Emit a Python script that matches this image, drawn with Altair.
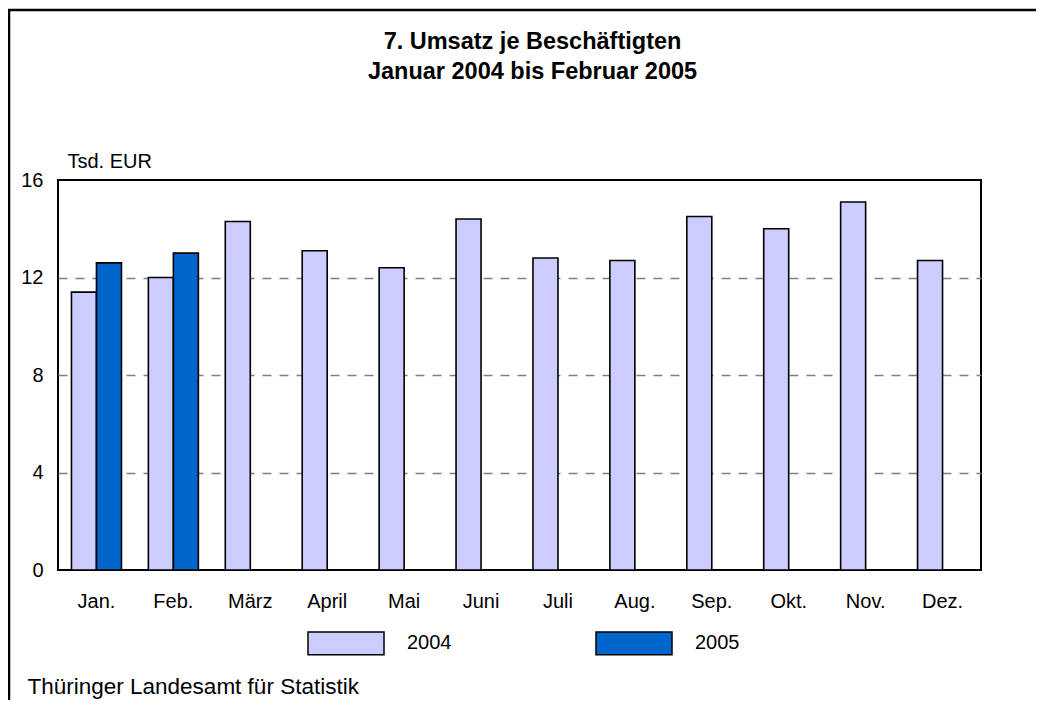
import altair as alt
import pandas as pd

months = ["Jan.", "Feb.", "März", "April", "Mai", "Juni", "Juli", "Aug.", "Sep.", "Okt.", "Nov.", "Dez."]
values_2004 = [11.4, 12.0, 14.3, 13.1, 12.4, 14.4, 12.8, 12.7, 14.5, 14.0, 15.1, 12.7]
values_2005 = [12.6, 13.0]
years = ["2004", "2005"]
colors = ["#CCCCFF", "#0066CC"]
y_ticks = [0, 4, 8, 12, 16]

rows = []
for m, v in zip(months, values_2004):
    rows.append({"Monat": m, "Jahr": "2004", "Wert": v})
for m, v in zip(months, values_2005):
    rows.append({"Monat": m, "Jahr": "2005", "Wert": v})
df = pd.DataFrame(rows)

FONT = "Liberation Sans, Arial, Helvetica, sans-serif"

bars = alt.Chart(df).mark_bar(stroke="black", strokeWidth=1.6).encode(
    x=alt.X(
        "Monat:N",
        sort=months,
        scale=alt.Scale(paddingInner=0.35, paddingOuter=0.175),
        axis=alt.Axis(
            title="Thüringer Landesamt für Statistik",
            labelAngle=0, labelFontSize=20, labelPadding=37,
            labelBaseline="alphabetic", labelColor="black",
            ticks=False, tickSize=0, domain=False,
            titleX=-31, titleY=123, titleAlign="left", titleAnchor="start",
            titleBaseline="alphabetic", titleFontSize=22.5,
            titleFontWeight="normal", titleColor="black",
        ),
    ),
    xOffset=alt.XOffset("Jahr:N", sort=years, scale=alt.Scale(paddingInner=0, paddingOuter=0)),
    y=alt.Y(
        "Wert:Q",
        scale=alt.Scale(domain=[0, 16], nice=False),
        axis=alt.Axis(
            values=y_ticks, title="Tsd. EUR",
            titleAngle=0, titleX=9, titleY=-13, titleAlign="left",
            titleBaseline="alphabetic", titleFontSize=20,
            titleFontWeight="normal", titleColor="black",
            labelFontSize=20, labelPadding=15, labelColor="black",
            ticks=False, tickSize=0, domain=False,
            grid=True, gridColor="#808080", gridDash=[9, 8], gridWidth=1.5,
            gridOpacity=alt.condition("datum.value == 0 || datum.value == 16", alt.value(0), alt.value(1)),
        ),
    ),
    color=alt.Color(
        "Jahr:N",
        scale=alt.Scale(domain=years, range=colors),
        legend=alt.Legend(
            orient="none", legendX=249, legendY=424, direction="horizontal",
            title=None, symbolType="M-1,-0.3H1V0.3H-1Z", symbolSize=5776,
            symbolStrokeColor="black", symbolStrokeWidth=1.5, symbolOpacity=1,
            labelFontSize=20, labelOffset=22, columnPadding=141, padding=0,
            labelColor="black",
        ),
    ),
)

frame_data = alt.Data(values=[{"k": 1}])
left_line = alt.Chart(frame_data).mark_rule(color="black", strokeWidth=2.5).encode(
    x=alt.value(-49), y=alt.value(-170), y2=alt.value(540)
)
top_line = alt.Chart(frame_data).mark_rule(color="black", strokeWidth=2.5).encode(
    x=alt.value(-50), x2=alt.value(1000), y=alt.value(-170)
)

chart = alt.layer(bars, left_line, top_line).properties(
    width=923,
    height=390,
    autosize=alt.AutoSizeParams(type="none"),
    padding={"left": 50, "top": 172, "right": 55, "bottom": 130},
    title=alt.TitleParams(
        ["7. Umsatz je Beschäftigten", "Januar 2004 bis Februar 2005"],
        fontSize=23.5, fontWeight="bold", lineHeight=30, anchor="middle",
        frame="group", dx=13, offset=-75, color="black", font=FONT,
    ),
).configure(font=FONT).configure_view(stroke="black", strokeWidth=2)

chart.save("out.html", embed_options={"renderer": "svg", "actions": False})
